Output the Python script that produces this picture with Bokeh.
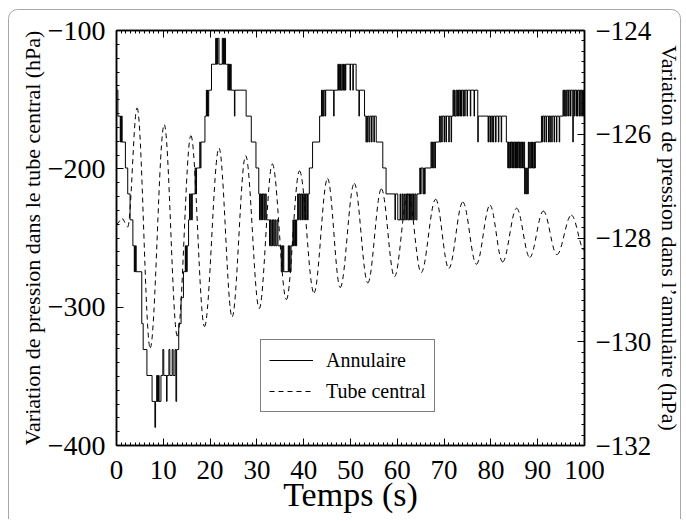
import math
from bokeh.plotting import figure
from bokeh.models import (Range1d, LinearAxis, SingleIntervalTicker,
                          CustomJSTickFormatter, Legend, LegendItem)
from bokeh.embed import file_html
from bokeh.resources import INLINE

FONT = "Liberation Serif"

# ---------------- data ----------------
# Tube central (left axis, hPa): successive extrema
tube_t = [0.0, 1.2, 2.4,
          4.4, 7.2, 10.2, 13.0, 15.9, 18.8, 21.9, 24.7, 27.6, 30.5,
          33.3, 36.3, 39.1, 42.2, 45.1, 47.8, 50.8, 53.7, 56.6, 59.4,
          62.3, 65.1, 68.2, 71.0, 74.0, 76.9, 79.8, 82.5, 85.5, 88.3,
          91.2, 94.1, 97.2, 100.0]
tube_p = [-240, -236, -242,
          -156, -329.5, -168, -321, -176, -314, -185, -307, -190.5, -301,
          -196.5, -294.5, -201.5, -289.7, -207, -285.8, -210.5, -282.5, -214.5, -278,
          -218, -275, -222, -272, -224, -269, -226.3, -267.3, -228.5, -264,
          -230.5, -262, -233.5, -259]

# Annulaire (right axis, hPa): step changes (time s, pressure hPa)
annulaire_steps = [
    (0.0, -125.15), (0.3, -125.65),
    (0.8, -126.15), (0.9, -125.65), (1.0, -126.15), (1.1, -125.65), (1.2, -126.15),
    (1.9, -126.65), (2.4, -127.15), (2.9, -127.65), (3.5, -128.15),
    (3.8, -128.65), (3.9, -128.15), (4.0, -128.65), (4.1, -128.15), (4.2, -128.65),
    (5.4, -129.65), (5.7, -130.15), (6.5, -130.65), (7.6, -131.15),
    (8.2, -131.65), (8.35, -131.15),
    (8.6, -130.65), (8.7, -131.15), (8.8, -130.65), (8.9, -131.15), (9.0, -130.65), (9.1, -131.15),
    (9.5, -130.65), (9.9, -130.15), (10.1, -130.65),
    (10.7, -131.15), (10.8, -130.65), (11.2, -130.15), (11.4, -130.65),
    (11.9, -130.15), (12.1, -130.65), (12.5, -130.15), (12.7, -131.15), (12.85, -130.15),
    (13.3, -129.65), (13.8, -129.15), (14.3, -128.65),
    (14.7, -128.15), (14.8, -128.65), (14.9, -128.15), (15.0, -128.65), (15.1, -128.15),
    (15.4, -127.65),
    (15.6, -127.15), (15.75, -127.65), (15.9, -127.15), (16.05, -127.65), (16.2, -127.15),
    (16.8, -126.65), (16.95, -127.15), (17.1, -126.65),
    (17.8, -126.15), (17.9, -126.65), (18.05, -126.15),
    (18.9, -125.65),
    (19.2, -125.15), (19.3, -125.65), (19.45, -125.15), (19.55, -125.65), (19.7, -125.15),
    (20.3, -124.65),
    (21.2, -124.15), (21.3, -124.65), (21.4, -124.15), (21.55, -124.65), (21.65, -124.15),
    (21.9, -124.65), (22.6, -124.15), (22.75, -124.65), (22.85, -124.15), (23.0, -124.65),
    (23.1, -124.15), (23.3, -124.65),
    (23.8, -125.15), (23.9, -124.65), (24.05, -125.15), (24.15, -124.65), (24.3, -125.15),
    (24.4, -124.65), (24.5, -125.15),
    (25.2, -125.65), (25.3, -125.15),
    (27.7, -125.65), (28.8, -126.15), (29.8, -126.65),
    (30.4, -127.15), (30.55, -127.65), (30.7, -127.15), (30.85, -127.65), (31.0, -127.15),
    (31.2, -127.65), (31.35, -127.15), (31.6, -127.65), (31.8, -127.15),
    (32.0, -127.65),
    (32.7, -128.15), (32.85, -127.65), (33.0, -128.15), (33.2, -127.65), (33.35, -128.15),
    (33.5, -127.65), (33.7, -128.15), (33.9, -127.65), (34.05, -128.15), (34.3, -127.65),
    (34.5, -128.15),
    (35.2, -128.65), (35.35, -128.15), (35.5, -128.65), (35.6, -128.15), (35.75, -128.65),
    (36.7, -128.15), (36.8, -128.65), (36.95, -128.15), (37.1, -128.65), (37.3, -128.15),
    (37.7, -127.65), (37.8, -128.15), (37.95, -127.65), (38.1, -128.15), (38.25, -127.65),
    (38.4, -128.15), (38.5, -127.65),
    (38.7, -127.15), (38.85, -127.65), (39.0, -127.15), (39.2, -127.65), (39.35, -127.15),
    (39.6, -127.65), (39.75, -127.15), (40.0, -127.65), (40.15, -127.15), (40.4, -127.65),
    (40.55, -127.15), (40.8, -127.65), (40.95, -127.15),
    (41.2, -126.65), (41.9, -126.15), (43.4, -125.65),
    (43.8, -125.15), (43.9, -125.65), (44.05, -125.15), (44.2, -125.65), (44.35, -125.15),
    (44.6, -125.65), (44.7, -125.15), (46.4, -125.65), (46.5, -125.15),
    (47.3, -124.65), (47.45, -125.15), (47.6, -124.65), (47.7, -125.15), (47.85, -124.65),
    (48.0, -125.15), (48.2, -124.65), (48.35, -125.15), (48.5, -124.65), (48.6, -125.15),
    (48.75, -124.65), (48.9, -125.15), (49.0, -124.65),
    (49.9, -125.15), (50.0, -124.65), (50.5, -125.15), (50.6, -124.65),
    (51.2, -125.15), (51.8, -125.65), (51.9, -125.15),
    (53.0, -125.65),
    (53.3, -126.15), (53.45, -125.65), (53.6, -126.15), (53.75, -125.65), (54.0, -126.15),
    (54.15, -125.65), (54.5, -126.15), (54.6, -125.65), (55.0, -126.15), (55.1, -125.65),
    (55.5, -126.15), (56.9, -126.65), (57.6, -127.15),
    (59.5, -127.65), (59.6, -127.15), (60.1, -127.65),
    (60.6, -127.15), (60.7, -127.65), (61.0, -127.15), (61.15, -127.65), (61.4, -127.15),
    (61.5, -127.65), (61.8, -127.15), (61.95, -127.65), (62.1, -127.15), (62.25, -127.65),
    (62.5, -127.15), (62.6, -127.65), (62.8, -127.15), (62.95, -127.65), (63.1, -127.15),
    (63.3, -127.65), (63.45, -127.15), (63.6, -127.65), (63.8, -127.15), (64.0, -127.65),
    (64.2, -127.15),
    (64.8, -126.65), (64.95, -127.15), (65.1, -126.65),
    (65.5, -127.15), (65.65, -126.65), (65.8, -127.15), (65.95, -126.65),
    (67.2, -126.15), (67.35, -126.65), (67.5, -126.15), (67.65, -126.65), (67.8, -126.15),
    (68.0, -126.65), (68.15, -126.15),
    (69.0, -125.65), (69.15, -126.15), (69.3, -125.65), (69.5, -126.15), (69.6, -125.65),
    (70.0, -126.15), (70.1, -125.65), (70.4, -126.15), (70.5, -125.65), (71.0, -126.15),
    (71.1, -125.65), (71.5, -126.15), (71.6, -125.65),
    (71.9, -125.15), (72.05, -125.65), (72.2, -125.15), (72.35, -125.65), (72.6, -125.15),
    (72.8, -125.65), (72.9, -125.15), (73.1, -125.65), (73.2, -125.15), (73.4, -125.65),
    (73.5, -125.15), (73.7, -125.65), (73.8, -125.15), (74.1, -125.65), (74.2, -125.15),
    (74.4, -125.65), (74.5, -125.15), (74.9, -125.65), (75.0, -125.15), (75.6, -125.65),
    (75.7, -125.15), (76.4, -125.65), (76.5, -125.15),
    (77.2, -126.15), (77.3, -125.65),
    (79.4, -126.15), (79.5, -125.65), (79.8, -126.15), (79.9, -125.65), (80.2, -126.15),
    (80.3, -125.65), (80.5, -126.15), (80.6, -125.65), (81.0, -126.15), (81.1, -125.65),
    (81.6, -126.15), (81.7, -125.65), (82.2, -126.15), (82.3, -125.65),
    (83.3, -126.15),
    (83.6, -126.65), (83.75, -126.15), (83.9, -126.65), (84.05, -126.15), (84.2, -126.65),
    (84.3, -126.15), (84.5, -126.65), (84.6, -126.15), (84.8, -126.65), (84.9, -126.15),
    (85.1, -126.65), (85.25, -126.15), (85.4, -126.65), (85.5, -126.15), (85.7, -126.65),
    (85.8, -126.15), (86.0, -126.65), (86.1, -126.15), (86.3, -126.65), (86.45, -126.15),
    (86.6, -126.65), (86.75, -126.15), (86.9, -126.65), (87.05, -126.15),
    (87.2, -127.15), (87.35, -126.65), (87.5, -127.15), (87.65, -126.65), (87.8, -127.15),
    (88.0, -126.15), (88.1, -126.65), (88.3, -126.15), (88.4, -126.65), (88.6, -126.15),
    (88.7, -126.65), (88.9, -126.15), (89.0, -126.65), (89.2, -126.15), (89.3, -126.65),
    (89.5, -126.15),
    (90.8, -125.65), (91.0, -126.15), (91.1, -125.65), (91.4, -126.15), (91.5, -125.65),
    (91.8, -126.15), (91.9, -125.65), (92.3, -126.15), (92.4, -125.65), (92.6, -126.15),
    (92.7, -125.65), (93.0, -126.15), (93.1, -125.65), (93.5, -126.15), (93.6, -125.65),
    (94.0, -126.15), (94.1, -125.65), (94.6, -126.15), (94.7, -125.65),
    (95.4, -125.15), (95.55, -125.65), (95.7, -125.15), (95.85, -125.65), (96.0, -125.15),
    (96.2, -125.65), (96.3, -125.15), (96.6, -125.65), (96.7, -125.15), (97.0, -125.65),
    (97.1, -125.15), (97.5, -126.15), (97.6, -125.15), (97.8, -125.65), (97.9, -125.15),
    (98.2, -125.65), (98.3, -125.15), (98.5, -125.65), (98.6, -125.15), (98.9, -125.65),
    (99.0, -125.15), (99.2, -125.65), (99.3, -125.15), (99.5, -125.65), (99.6, -125.15),
    (99.8, -125.65), (99.9, -125.15), (100.0, -125.15),
]
ann_t = [a for a, _ in annulaire_steps]
ann_p = [b for _, b in annulaire_steps]

x_ticks_major = 10
left_ticks_major = 100
right_ticks_major = 2

# ---------------- figure ----------------
W, H = 685, 519
p = figure(width=W, height=H,
           x_range=Range1d(0, 100), y_range=Range1d(-400, -100),
           output_backend="svg", toolbar_location=None,
           min_border_left=116, min_border_right=101,
           min_border_top=30, min_border_bottom=74,
           background_fill_color="white", border_fill_color=None)
p.extra_y_ranges = {"ann": Range1d(-132, -124)}
p.grid.visible = False
p.outline_line_color = "black"
p.outline_line_width = 1.5

# light rounded page frame, drawn as a CSS background behind the transparent canvas border
frame_svg = ("data:image/svg+xml;utf8,<svg xmlns='http://www.w3.org/2000/svg' "
             f"width='{W}' height='{H}'><rect x='8.5' y='9.5' width='672' height='700' "
             "rx='9' ry='9' fill='none' stroke='%23a8a8a8' stroke-width='1'/></svg>")
p.styles = {"background-color": "white",
            "background-image": f'url("{frame_svg}")',
            "background-repeat": "no-repeat"}

minus_fmt = CustomJSTickFormatter(code="""
    return tick < 0 ? "\u2212" + Math.abs(tick).toString() : tick.toString();
""")

def style_axis(ax, fs):
    ax.axis_line_color = "black"
    ax.axis_line_width = 1.5
    ax.major_tick_in = 7
    ax.major_tick_out = 0
    ax.minor_tick_in = 3
    ax.minor_tick_out = 0
    ax.major_tick_line_color = "black"
    ax.minor_tick_line_color = "black"
    ax.major_label_text_font = FONT
    ax.major_label_text_font_size = fs
    ax.major_label_text_color = "black"
    ax.axis_label_text_font = FONT
    ax.axis_label_text_font_style = "normal"
    ax.axis_label_text_color = "black"

# bottom axis
xa = p.xaxis[0]
xa.ticker = SingleIntervalTicker(interval=x_ticks_major, num_minor_ticks=10)
style_axis(xa, "27px")
xa.major_label_standoff = 15
xa.axis_label = "Temps (s)"
xa.axis_label_text_font_size = "34px"
xa.axis_label_standoff = -6

# top axis (ticks only)
ta = LinearAxis(ticker=SingleIntervalTicker(interval=x_ticks_major, num_minor_ticks=10))
style_axis(ta, "27px")
ta.major_label_text_alpha = 0
ta.major_label_text_font_size = "1px"
ta.major_label_standoff = 0
p.add_layout(ta, "above")

# left axis
ya = p.yaxis[0]
ya.ticker = SingleIntervalTicker(interval=left_ticks_major, num_minor_ticks=10)
ya.formatter = minus_fmt
style_axis(ya, "28px")
ya.major_label_standoff = 11
ya.axis_label = "Variation de pression dans le tube central (hPa)"
ya.axis_label_text_font_size = "22px"
ya.axis_label_standoff = 0

# right axis
ra = LinearAxis(y_range_name="ann",
                ticker=SingleIntervalTicker(interval=right_ticks_major, num_minor_ticks=10),
                formatter=minus_fmt)
style_axis(ra, "27px")
ra.major_label_standoff = 11
ra.axis_label = "Variation de pression dans l\u2019annulaire (hPa)"
ra.axis_label_text_font_size = "22px"
ra.axis_label_standoff = 3
p.add_layout(ra, "right")

# ---------------- glyphs ----------------
# tube central: smooth curve through successive extrema (flat tangents)
k = 0.36
x0 = tube_t[:-1]; x1 = tube_t[1:]
y0 = tube_p[:-1]; y1 = tube_p[1:]
cx0 = [a + k * (b - a) for a, b in zip(x0, x1)]
cx1 = [b - k * (b - a) for a, b in zip(x0, x1)]
p.bezier(x0=x0, y0=y0, x1=x1, y1=y1, cx0=cx0, cy0=y0, cx1=cx1, cy1=y1,
         line_color="black", line_width=1, line_dash="5 4")

ann_r = p.step(x=ann_t, y=ann_p, mode="after", y_range_name="ann",
               line_color="black", line_width=1)

tube_leg = p.line(x=[float("nan")], y=[float("nan")], line_color="black",
                  line_width=1, line_dash="5 4")

legend = Legend(items=[LegendItem(label="Annulaire", renderers=[ann_r]),
                       LegendItem(label="Tube central", renderers=[tube_leg])],
                location=(144, 33), margin=0, padding=8, spacing=7,
                glyph_width=44, glyph_height=24, label_height=24, label_standoff=13,
                label_text_font=FONT, label_text_font_size="20px",
                label_text_color="black",
                border_line_color="black", border_line_width=1,
                background_fill_color="white", background_fill_alpha=1)
p.add_layout(legend, "center")

open("out.html", "w").write(file_html(p, INLINE))
